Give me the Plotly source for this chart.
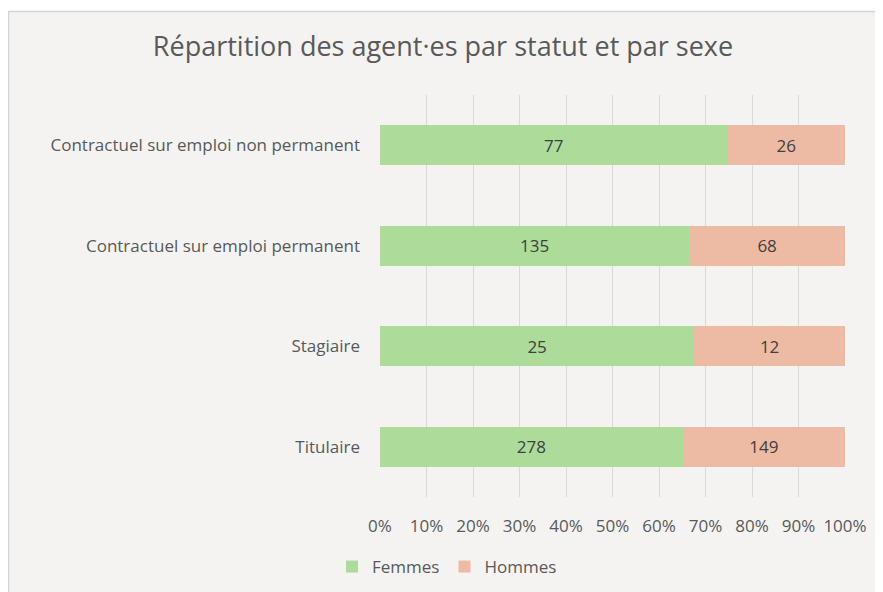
import plotly.graph_objects as go

categories = ["Titulaire", "Stagiaire", "Contractuel sur emploi permanent",
              "Contractuel sur emploi non permanent"]
femmes = [278, 25, 135, 77]
hommes = [149, 12, 68, 26]
series_names = ["Femmes", "Hommes"]
colors = ["#acdb9a", "#edbba4"]

# page body has an 8px margin; work in reference-pixel coordinates
OFF = 8
W, H = 883 - OFF, 592 - OFF
PL, PR, PT, PB = 380, 845, 95, 497          # plot area in reference pixels
L, R = PL - OFF, (883 - OFF) - (PR - OFF)
T, B = PT - OFF, H - (PB - OFF)
pw, ph = PR - PL, PB - PT

def px_x(p):
    return (p - PL) / pw

def px_y(p):
    return (PB - p) / ph

font_family = "Open Sans, Liberation Sans, Arial, sans-serif"

fig = go.Figure()
for name, vals, col in zip(series_names, [femmes, hommes], colors):
    fig.add_trace(go.Bar(
        y=categories, x=vals, name=name, orientation="h",
        marker=dict(color=col, line=dict(width=0)),
        text=[str(v) for v in vals], textposition="inside",
        insidetextanchor="middle",
        textfont=dict(color="#404040", size=17, family=font_family),
        width=0.4,
    ))

fig.add_shape(type="rect", xref="paper", yref="paper",
              x0=px_x(OFF + 0.5), x1=px_x(879.5), y0=px_y(650), y1=px_y(11.5),
              fillcolor="#f4f3f1", line=dict(color="#d4d4d4", width=1.5),
              layer="below")

fig.update_layout(
    width=W, height=H,
    margin=dict(l=L, r=R, t=T, b=B, autoexpand=False),
    paper_bgcolor="white", plot_bgcolor="rgba(0,0,0,0)",
    barmode="stack", barnorm="percent",
    title=dict(text="Répartition des agent·es par statut et par sexe",
               x=(443 - OFF) / W, xref="container", xanchor="center",
               y=1 - (47 - OFF) / H, yref="container", yanchor="middle",
               font=dict(size=27, color="#595959", family=font_family)),
    xaxis=dict(range=[0, 100], dtick=10, ticksuffix="%", showgrid=True,
               gridcolor="#d9d9d9", gridwidth=1, zeroline=False,
               showline=False, ticks="", ticklabelstandoff=17,
               automargin=False,
               tickfont=dict(size=17, color="#595959", family=font_family),
               fixedrange=True),
    yaxis=dict(showgrid=False, zeroline=False, showline=False, ticks="",
               ticklabelstandoff=19, automargin=False,
               tickfont=dict(size=17, color="#595959", family=font_family),
               range=[-0.5, 3.5]),
    legend=dict(orientation="h", x=(447 - OFF) / W, xref="container",
                xanchor="center",
                y=1 - (567 - OFF) / H, yref="container", yanchor="middle",
                font=dict(size=17, color="#595959", family=font_family),
                bgcolor="rgba(0,0,0,0)", itemwidth=30, traceorder="normal"),
    showlegend=True,
)

fig.write_html("out.html")
